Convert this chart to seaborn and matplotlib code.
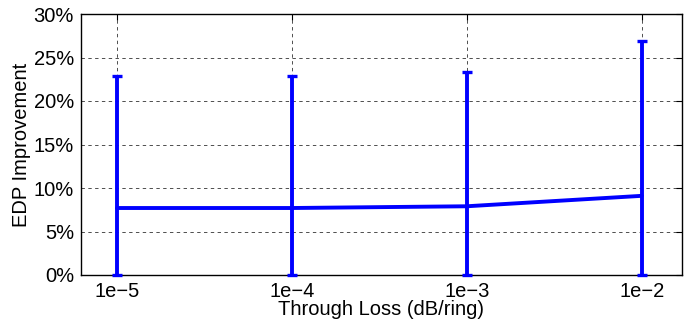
import matplotlib
matplotlib.use("Agg")
import matplotlib.pyplot as plt
import seaborn as sns
import pandas as pd
import numpy as np

categories = ["1e\u22125", "1e\u22124", "1e\u22123", "1e\u22122"]
mean_vals = [7.7, 7.7, 7.9, 9.1]
low_vals = [0.0, 0.0, 0.0, 0.0]
high_vals = [22.9, 22.9, 23.3, 26.9]
y_ticks = [0, 5, 10, 15, 20, 25, 30]

sns.set_theme(style="white")
plt.rcParams['font.family'] = ['Liberation Sans', 'DejaVu Sans']
plt.rcParams['text.color'] = 'black'
plt.rcParams['axes.labelcolor'] = 'black'

df = pd.DataFrame({"pos": np.arange(len(categories)), "mean": mean_vals,
                   "low": low_vals, "high": high_vals})

fig = plt.figure(figsize=(6.86, 3.22), dpi=100)
ax = fig.add_axes([81/686, 47/322, 601/686, 261/322])

sns.lineplot(data=df, x="pos", y="mean", color="#0000ff", lw=2.8, ax=ax, zorder=3)
yerr = np.vstack([df["mean"] - df["low"], df["high"] - df["mean"]])
ax.errorbar(df["pos"], df["mean"], yerr=yerr, fmt="none", ecolor="#0000ff",
            elinewidth=2.8, capsize=3.6, capthick=2.4, zorder=3, clip_on=False)

ax.set_xlim(-0.205, 3.23)
ax.set_ylim(0, 30)
ax.set_xticks(df["pos"])
ax.set_xticklabels(categories)
ax.set_yticks(y_ticks)
ax.set_yticklabels([f"{v}%" for v in y_ticks])
ax.grid(True, color="#222222", linestyle=(0, (3.5, 3.5)), lw=0.7, alpha=0.8)
for s in ax.spines.values():
    s.set_visible(True)
    s.set_color("black")
    s.set_linewidth(1.0)
ax.tick_params(direction="in", length=4, width=0.8, labelsize=14.5, colors="black",
               labelcolor="black", top=True, right=True, pad=5)
ax.set_xlabel("Through Loss (dB/ring)", fontsize=14.5, labelpad=-1, color="black")
ax.set_ylabel("EDP Improvement", fontsize=14.5, labelpad=2, color="black")

fig.savefig("out.png", dpi=100)
